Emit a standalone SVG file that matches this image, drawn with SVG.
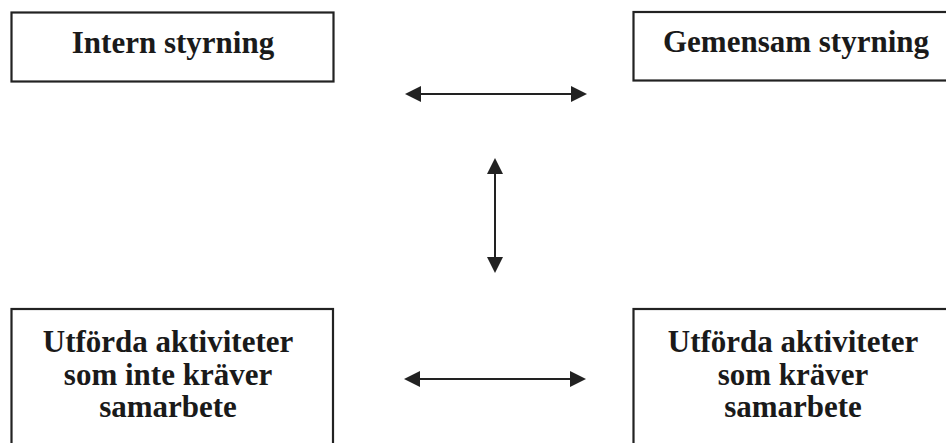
<svg xmlns="http://www.w3.org/2000/svg" width="946" height="443" viewBox="0 0 946 443">
<style>
.box{fill:#fff;stroke:#222;stroke-width:2.2}
.lbl{font-family:"Liberation Serif","Times New Roman",serif;font-weight:bold;font-size:31px;fill:#1a1a1a;text-anchor:middle}
.conn{stroke:#222;stroke-width:2;fill:none;marker-start:url(#ah);marker-end:url(#ah)}
</style>
<defs>
<marker id="ah" markerUnits="userSpaceOnUse" markerWidth="17" markerHeight="17" viewBox="0 0 17 17" refX="3" refY="8.5" orient="auto-start-reverse">
<path d="M0,0.5 L16,8.5 L0,16.5 z" fill="#222"/>
</marker>
</defs>
<rect width="946" height="443" fill="#fff"/>
<g id="intern">
<rect class="box" x="11.5" y="12.5" width="322" height="69"/>
<text class="lbl" x="173" y="53">Intern styrning</text>
</g>
<g id="gemensam">
<rect class="box" x="633.5" y="12" width="330" height="68.5"/>
<text class="lbl" x="796" y="52">Gemensam styrning</text>
</g>
<g id="utan-samarbete">
<rect class="box" x="11.5" y="309" width="321.5" height="150"/>
<text class="lbl" x="168" y="352">Utförda aktiviteter</text>
<text class="lbl" x="168" y="385">som inte kräver</text>
<text class="lbl" x="168" y="417">samarbete</text>
</g>
<g id="med-samarbete">
<rect class="box" x="633.5" y="309" width="330" height="150"/>
<text class="lbl" x="793" y="352">Utförda aktiviteter</text>
<text class="lbl" x="793" y="385">som kräver</text>
<text class="lbl" x="793" y="417">samarbete</text>
</g>
<g id="connectors">
<line class="conn" x1="418" y1="94" x2="574" y2="94"/>
<line class="conn" x1="495" y1="171" x2="495" y2="260"/>
<line class="conn" x1="417" y1="379" x2="573" y2="379"/>
</g>
</svg>
